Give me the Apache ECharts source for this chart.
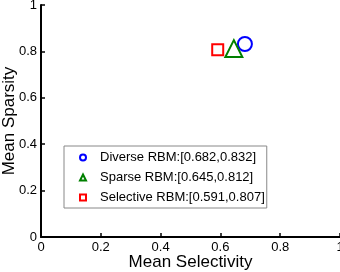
<!DOCTYPE html>
<html>
<head>
    <meta charset="utf-8">
    <title>Mean Selectivity vs Mean Sparsity</title>
    <script src="https://cdn.jsdelivr.net/npm/echarts@6/dist/echarts.min.js"></script>
    <style>
        html, body { margin: 0; padding: 0; background: #fff; }
    </style>
</head>
<body>
    <div id="main" style="width: 340px;height:272px;"></div>
    <script type="text/javascript">
        // data
        var models = ['Diverse RBM', 'Sparse RBM', 'Selective RBM'];
        var selectivity = [0.682, 0.645, 0.591];
        var sparsity = [0.832, 0.812, 0.807];
        var symbols = ['circle', 'triangle', 'rect'];
        var colors = ['#0000ff', '#008000', '#ff0000'];
        var sizes = [14, 17, 11];
        var ticks = [0, 0.2, 0.4, 0.6, 0.8, 1];

        var font = 'Liberation Sans, Arial, Helvetica, sans-serif';

        function label(i) {
            return models[i] + ':[' + selectivity[i].toFixed(3) + ',' + sparsity[i].toFixed(3) + ']';
        }

        var series = models.map(function (m, i) {
            return {
                name: label(i),
                type: 'scatter',
                symbol: symbols[i],
                symbolSize: sizes[i],
                itemStyle: { color: '#fff', borderColor: colors[i], borderWidth: 2, opacity: 1 },
                data: [[selectivity[i], sparsity[i]]]
            };
        });

        function axisLabelFmt(v) {
            return ticks.indexOf(v) >= 0 ? String(v) : '';
        }

        var myChart = echarts.init(document.getElementById('main'));
        myChart.setOption({
            animation: false,
            textStyle: { fontFamily: font },
            grid: { left: 41, right: 0, top: 5, bottom: 35, containLabel: false, outerBoundsMode: 'none' },
            legend: {
                orient: 'vertical',
                left: 64, top: 146,
                padding: [5, 2, 4, 15],
                itemGap: 7,
                itemWidth: 6, itemHeight: 6,
                borderColor: '#888', borderWidth: 1,
                backgroundColor: '#fff',
                textStyle: { fontSize: 13, color: '#000', fontFamily: font, padding: [0, 0, 0, 9] },
                data: series.map(function (s, i) {
                    return { name: s.name, icon: symbols[i] };
                })
            },
            xAxis: {
                type: 'value', min: 0, max: 1, interval: 0.2,
                name: 'Mean Selectivity', nameLocation: 'middle', nameGap: 17,
                nameMoveOverlap: false,
                nameTextStyle: { fontSize: 17, color: '#000', fontFamily: font },
                axisLine: { lineStyle: { color: '#000', width: 2 } },
                axisTick: { inside: true, length: 4, lineStyle: { color: '#000', width: 1.5 } },
                axisLabel: { fontSize: 13, color: '#000', margin: 4, formatter: axisLabelFmt },
                splitLine: { show: false }
            },
            yAxis: {
                type: 'value', min: 0, max: 1, interval: 0.2,
                name: 'Mean Sparsity', nameLocation: 'middle', nameGap: 23,
                nameMoveOverlap: false,
                nameTextStyle: { fontSize: 17, color: '#000', fontFamily: font },
                axisLine: { lineStyle: { color: '#000', width: 2 } },
                axisTick: { inside: true, length: 4, lineStyle: { color: '#000', width: 1.5 } },
                axisLabel: { fontSize: 13, color: '#000', margin: 4, formatter: axisLabelFmt },
                splitLine: { show: false }
            },
            series: series
        });
    </script>
</body>
</html>
